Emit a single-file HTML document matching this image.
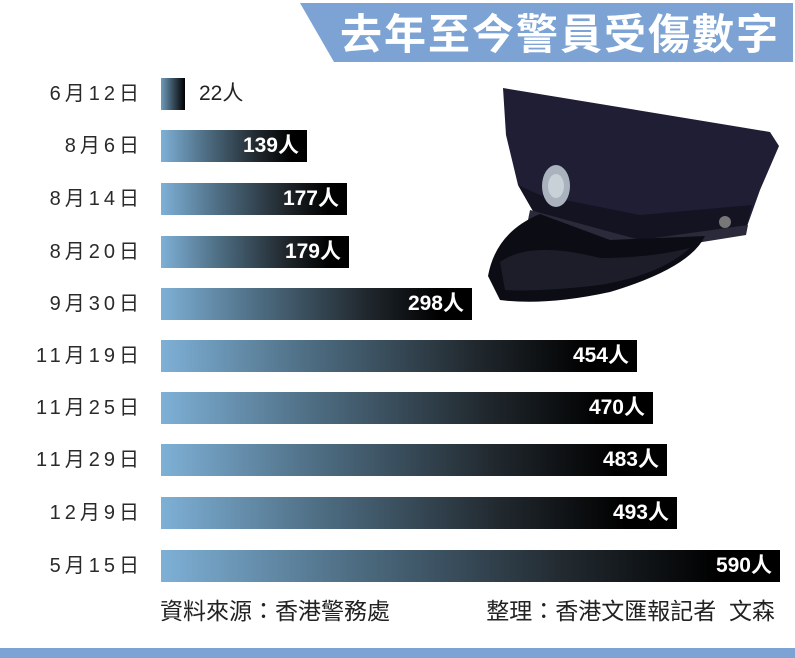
<!DOCTYPE html>
<html><head><meta charset="utf-8"><style>
body{margin:0;width:795px;height:658px;background:#fff;position:relative;overflow:hidden;font-family:"Liberation Sans","Noto Sans CJK TC",sans-serif;}
.hdr{position:absolute;left:300px;top:3px;width:493px;height:59px;background:#7ca3d3;clip-path:polygon(0 0,100% 0,100% 100%,34px 100%);}
.title{position:absolute;left:340px;top:4px;font-size:42px;font-weight:bold;color:#fff;letter-spacing:2px;line-height:56px;font-family:"Noto Sans CJK TC",sans-serif;white-space:nowrap;}
.lab{position:absolute;right:652px;font-size:20px;color:#2a2a2a;line-height:32px;white-space:nowrap;letter-spacing:4px;}
.bar{position:absolute;left:161px;height:32px;background:linear-gradient(to right,#7eb0d6 0%,#4f6f85 30%,#222a30 65%,#000 90%);}
.val{position:absolute;right:8px;top:0;line-height:32px;font-size:21px;font-weight:bold;color:#fff;white-space:nowrap;}
.foot{position:absolute;top:596px;font-size:23px;color:#222;line-height:30px;white-space:nowrap;}
.bot{position:absolute;left:0;top:648px;width:795px;height:10px;background:#7ca3d3;}
</style></head><body>
<div class="hdr"></div>
<div class="title">去年至今警員受傷數字</div>

<svg style="position:absolute;left:0;top:0" width="795" height="658">
<path d="M503,88 L770,132 L779,146 L760,190 L745,232 L640,250 L545,232 L518,185 L506,135 Z" fill="#1f1e35"/>
<path d="M518,185 L545,232 L640,250 L745,232 L752,205 L640,215 L540,195 Z" fill="#141322"/>
<path d="M530,210 L640,240 L748,225 L746,235 L640,252 L528,220 Z" fill="#2a2a3a"/>
<path d="M488,276 Q496,232 540,214 L610,240 L705,236 Q690,268 610,292 Q545,306 500,300 Z" fill="#0c0c14"/>
<path d="M500,262 Q530,240 600,258 Q650,258 690,248 Q660,275 600,285 Q540,292 505,290 Z" fill="#1d1d2a"/>
<ellipse cx="556" cy="186" rx="14" ry="21" fill="#aab2bd"/>
<ellipse cx="556" cy="186" rx="8" ry="12" fill="#c8d0d8"/>
<circle cx="725" cy="222" r="6" fill="#777"/>
</svg>

<div class="lab" style="top:78px">6月12日</div>
<div class="bar" style="top:78px;width:24px;background:linear-gradient(to right,#6f9cbc,#000)"></div>
<div style="position:absolute;left:199px;top:78px;line-height:32px;font-size:21px;color:#222">22人</div>

<div class="lab" style="top:130px">8月6日</div>
<div class="bar" style="top:130px;width:146px"><span class="val">139人</span></div>
<div class="lab" style="top:183px">8月14日</div>
<div class="bar" style="top:183px;width:186px"><span class="val">177人</span></div>
<div class="lab" style="top:236px">8月20日</div>
<div class="bar" style="top:236px;width:188px"><span class="val">179人</span></div>
<div class="lab" style="top:288px">9月30日</div>
<div class="bar" style="top:288px;width:311px"><span class="val">298人</span></div>
<div class="lab" style="top:340px">11月19日</div>
<div class="bar" style="top:340px;width:476px"><span class="val">454人</span></div>
<div class="lab" style="top:392px">11月25日</div>
<div class="bar" style="top:392px;width:492px"><span class="val">470人</span></div>
<div class="lab" style="top:444px">11月29日</div>
<div class="bar" style="top:444px;width:506px"><span class="val">483人</span></div>
<div class="lab" style="top:497px">12月9日</div>
<div class="bar" style="top:497px;width:516px"><span class="val">493人</span></div>
<div class="lab" style="top:550px">5月15日</div>
<div class="bar" style="top:550px;width:619px"><span class="val">590人</span></div>

<div class="foot" style="left:160px">資料來源：香港警務處</div>
<div class="foot" style="right:20px">整理：香港文匯報記者&nbsp;&nbsp;文森</div>
<div class="bot"></div>
</body></html>
